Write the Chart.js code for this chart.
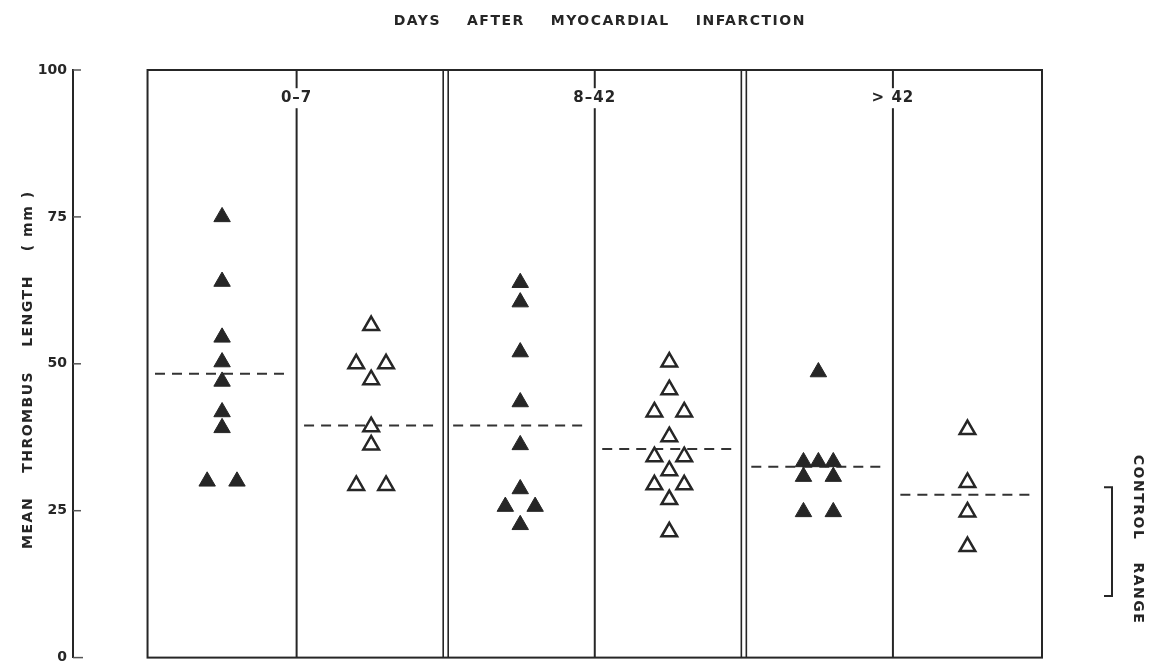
<!DOCTYPE html>
<html lang="en">
<head>
    <meta charset="UTF-8">
    <title>Mean thrombus length after myocardial infarction</title>
    <script src="https://cdn.jsdelivr.net/npm/chart.js"></script>
    <style>
        body, html {
            margin: 0;
            padding: 0;
            background: #fff;
            overflow: hidden;
        }
        .chart-container {
            width: 1151px;
            height: 672px;
        }
    </style>
</head>
<body>
    <div class="chart-container">
        <canvas id="thrombusChart"></canvas>
    </div>
    <script>
        // three periods, each split into a filled-triangle and an open-triangle column
        const periods = ['0–7', '8–42', '> 42'];
        const filled0to7 = [75, 64, 54.5, 50.3, 47, 41.8, 39.1, 30, 30];
        const open0to7 = [56.5, 50, 50, 47.3, 39.3, 36.2, 29.3, 29.3];
        const filled8to42 = [63.8, 60.5, 52, 43.5, 36.2, 28.7, 25.7, 25.7, 22.6];
        const open8to42 = [50.3, 45.6, 41.8, 41.8, 37.6, 34.2, 34.2, 31.8, 29.4, 29.4, 26.9, 21.4];
        const filledOver42 = [48.6, 33.3, 33.3, 33.3, 30.8, 30.8, 24.8, 24.8];
        const openOver42 = [38.8, 29.8, 24.8, 18.9];
        const meanLines = [48.3, 39.5, 39.5, 35.5, 32.5, 27.7];
        const controlRange = [10.5, 29];
        const yTicks = [0, 25, 50, 75, 100];

        const ink = '#262626';
        const font = '"DejaVu Sans", sans-serif';

        // equal values in one column sit side by side
        function spread(values, col) {
            const counts = {};
            values.forEach(v => counts[v] = (counts[v] || 0) + 1);
            const seen = {};
            return values.map(v => {
                const n = counts[v];
                const i = seen[v] = (seen[v] === undefined ? 0 : seen[v] + 1);
                const off = n > 1 ? (i / (n - 1) - 0.5) * 0.2 : 0;
                return { x: col + 0.5 + off, y: v };
            });
        }

        function triangles(values, col, filled) {
            return {
                type: 'scatter',
                data: spread(values, col),
                pointStyle: 'triangle',
                pointRadius: filled ? 9.5 : 9,
                backgroundColor: filled ? ink : '#fff',
                borderColor: ink,
                borderWidth: filled ? 1 : 2.5,
                order: 1
            };
        }

        const meanSets = meanLines.map((m, col) => ({
            type: 'line',
            data: [{ x: col + 0.05, y: m }, { x: col + 0.95, y: m }],
            borderColor: '#333',
            borderWidth: 2,
            borderDash: [10, 7],
            pointRadius: 0,
            order: 2
        }));

        function drawWords(ctx, words, gap) {
            const widths = words.map(w => ctx.measureText(w).width);
            const total = widths.reduce((a, b) => a + b, 0) + gap * (words.length - 1);
            let x = -total / 2;
            ctx.textAlign = 'left';
            words.forEach((w, i) => {
                ctx.fillText(w, x, 0);
                x += widths[i] + gap;
            });
        }

        const framePlugin = {
            id: 'frame',
            beforeDatasetsDraw(chart) {
                const ctx = chart.ctx;
                const xs = chart.scales.x, ys = chart.scales.y;
                const top = ys.getPixelForValue(100), bottom = ys.getPixelForValue(0);
                ctx.save();
                ctx.strokeStyle = ink;
                ctx.lineWidth = 2;
                ctx.strokeRect(xs.getPixelForValue(0), top, xs.getPixelForValue(6) - xs.getPixelForValue(0), bottom - top);
                for (let c = 1; c < 6; c++) {
                    const px = xs.getPixelForValue(c);
                    const offs = c % 2 === 0 ? [-2.5, 2.5] : [0];
                    ctx.lineWidth = c % 2 === 0 ? 1.6 : 2;
                    offs.forEach(o => {
                        ctx.beginPath();
                        ctx.moveTo(px + o, top);
                        ctx.lineTo(px + o, bottom);
                        ctx.stroke();
                    });
                }
                // inward tick marks on the y axis
                const ax = chart.chartArea.left;
                ctx.lineWidth = 1.5;
                ctx.strokeStyle = '#555';
                yTicks.forEach(v => {
                    const py = ys.getPixelForValue(v);
                    ctx.beginPath();
                    ctx.moveTo(ax, py);
                    ctx.lineTo(ax + (v === 0 ? 10 : 8), py);
                    ctx.stroke();
                });
                // period labels over the column dividers
                ctx.font = 'bold 15px ' + font;
                ctx.letterSpacing = '1px';
                ctx.textBaseline = 'middle';
                periods.forEach((p, i) => {
                    const px = xs.getPixelForValue(i * 2 + 1);
                    const py = ys.getPixelForValue(95.2);
                    const w = ctx.measureText(p).width;
                    ctx.fillStyle = '#fff';
                    ctx.fillRect(px - w / 2 - 3, py - 10, w + 6, 20);
                    ctx.fillStyle = ink;
                    ctx.textAlign = 'center';
                    ctx.fillText(p, px, py);
                });
                ctx.restore();
            },
            afterDraw(chart) {
                const ctx = chart.ctx;
                const xs = chart.scales.x, ys = chart.scales.y;
                ctx.save();
                ctx.fillStyle = ink;
                ctx.textBaseline = 'middle';
                ctx.font = 'bold 14px ' + font;
                ctx.letterSpacing = '1.5px';

                // title
                ctx.save();
                ctx.translate((xs.getPixelForValue(0) + xs.getPixelForValue(6)) / 2 + 5, 21);
                drawWords(ctx, ['DAYS', 'AFTER', 'MYOCARDIAL', 'INFARCTION'], 26);
                ctx.restore();

                // y axis title
                ctx.save();
                ctx.translate(28, ys.getPixelForValue(49));
                ctx.rotate(-Math.PI / 2);
                drawWords(ctx, ['MEAN', 'THROMBUS', 'LENGTH', '( mm )'], 24);
                ctx.restore();

                // control range bracket
                const bx = chart.chartArea.right + 70;
                const y1 = ys.getPixelForValue(controlRange[1]);
                const y2 = ys.getPixelForValue(controlRange[0]);
                ctx.strokeStyle = ink;
                ctx.lineWidth = 2;
                ctx.beginPath();
                ctx.moveTo(bx - 8, y1);
                ctx.lineTo(bx, y1);
                ctx.lineTo(bx, y2);
                ctx.lineTo(bx - 8, y2);
                ctx.stroke();

                ctx.save();
                ctx.translate(bx + 26, (y1 + y2) / 2 - 2);
                ctx.rotate(Math.PI / 2);
                drawWords(ctx, ['CONTROL', 'RANGE'], 22);
                ctx.restore();
                ctx.restore();
            }
        };

        const ctx = document.getElementById('thrombusChart').getContext('2d');

        new Chart(ctx, {
            data: {
                datasets: [
                    ...meanSets,
                    triangles(filled0to7, 0, true),
                    triangles(open0to7, 1, false),
                    triangles(filled8to42, 2, true),
                    triangles(open8to42, 3, false),
                    triangles(filledOver42, 4, true),
                    triangles(openOver42, 5, false)
                ]
            },
            options: {
                responsive: true,
                maintainAspectRatio: false,
                animation: false,
                layout: {
                    padding: { top: 70, right: 109, bottom: 2, left: 0 }
                },
                plugins: {
                    legend: { display: false },
                    tooltip: { enabled: false }
                },
                scales: {
                    x: {
                        type: 'linear',
                        min: -0.5,
                        max: 6,
                        display: false
                    },
                    y: {
                        min: 0,
                        max: 100,
                        afterBuildTicks: scale => { scale.ticks = yTicks.map(v => ({ value: v })); },
                        afterFit: scale => { scale.width = 73; },
                        border: { display: true, color: ink, width: 2 },
                        grid: { drawOnChartArea: false, drawTicks: false },
                        ticks: {
                            padding: 6,
                            color: ink,
                            font: { family: font, size: 14, weight: 'bold' }
                        }
                    }
                }
            },
            plugins: [framePlugin]
        });
    </script>
</body>
</html>
